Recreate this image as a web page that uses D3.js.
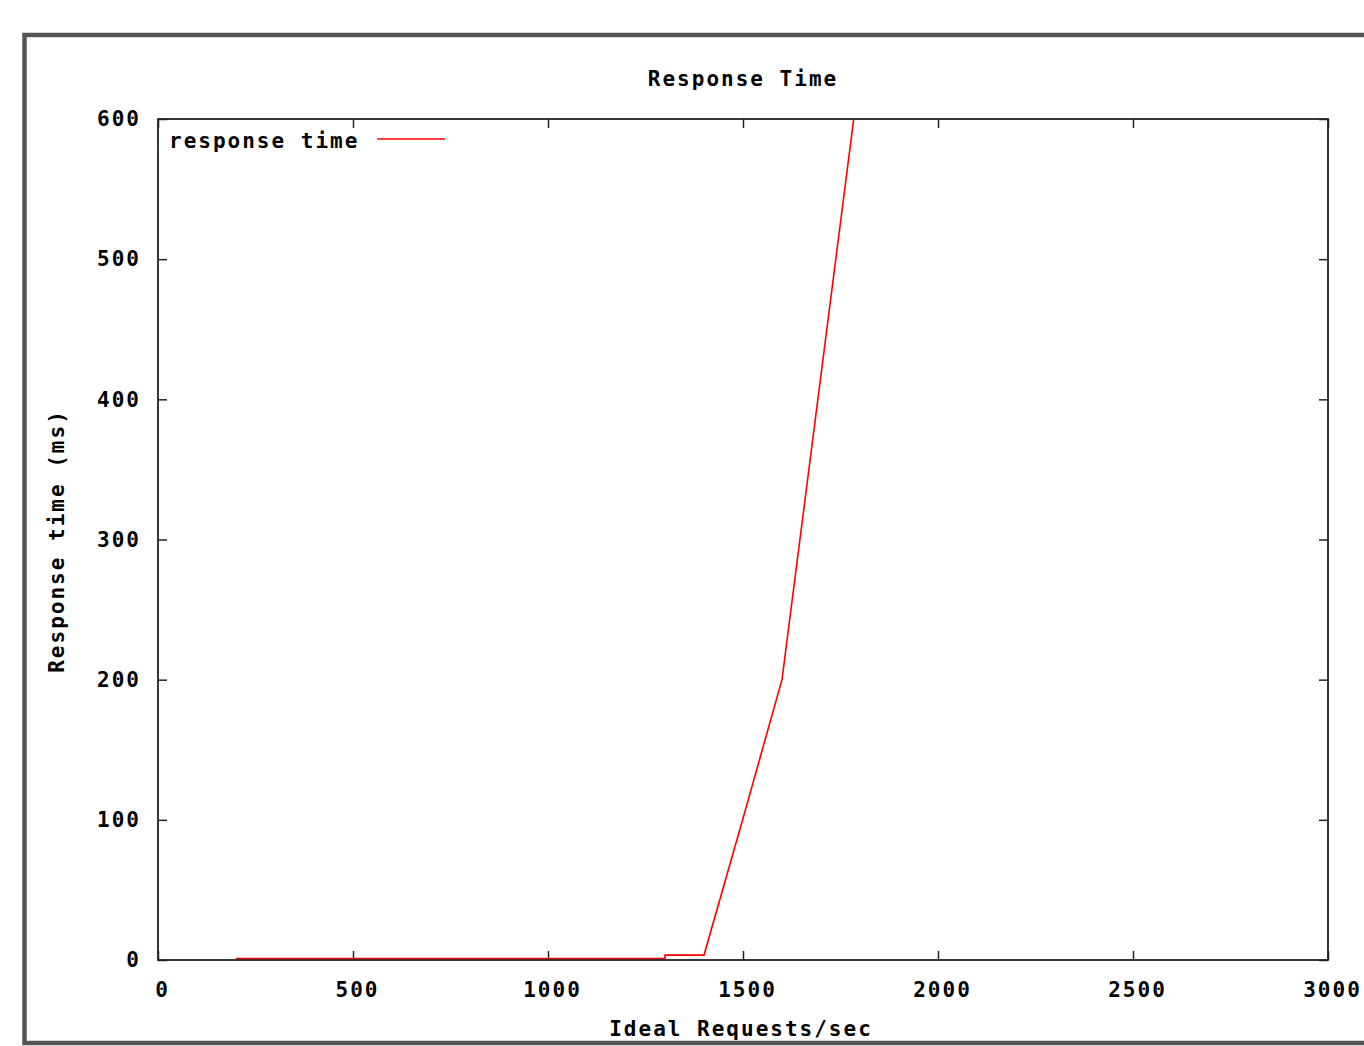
<!DOCTYPE html>
<html>
<head>
<meta charset="utf-8">
<script src="https://cdn.jsdelivr.net/npm/d3@7"></script>
<style>
  body { margin: 0; background: #fff; }
  text { font-family: "DejaVu Sans Mono", monospace; font-weight: bold; font-size: 21px; letter-spacing: 2px; fill: #000; }
</style>
</head>
<body>
<svg></svg>
<script>
// data
const requests = [200, 1300, 1300, 1400, 1500, 1600, 1800]
const responseMs = [1, 1, 3.5, 3.5, 101, 200, 635]
const xTicks = [0, 500, 1000, 1500, 2000, 2500, 3000]
const yTicks = [0, 100, 200, 300, 400, 500, 600]

const w = 1364
const h = 1046
const plotLeft = 158
const plotRight = 1328
const plotTop = 119
const plotBottom = 960

const svg = d3.select("svg")
    .attr("width", w)
    .attr("height", h)

// outer grey frame
svg.append("rect")
    .attr("x", 24.5)
    .attr("y", 35)
    .attr("width", 1400)
    .attr("height", 1008)
    .attr("fill", "#fff")
    .attr("stroke", "#555")
    .attr("stroke-width", 4.5)

const xScale = d3.scaleLinear().domain([0, 3000]).range([plotLeft, plotRight])
const yScale = d3.scaleLinear().domain([0, 600]).range([plotBottom, plotTop])

// ticks pointing inward on all four sides
const bottomAxis = d3.axisBottom(xScale).tickValues(xTicks).tickFormat(d3.format("d"))
    .tickSizeInner(-9).tickSizeOuter(0).tickPadding(22)
const topAxis = d3.axisTop(xScale).tickValues(xTicks).tickSizeInner(-9).tickSizeOuter(0).tickFormat("")
const leftAxis = d3.axisLeft(yScale).tickValues(yTicks).tickFormat(d3.format("d"))
    .tickSizeInner(-9).tickSizeOuter(0).tickPadding(17)
const rightAxis = d3.axisRight(yScale).tickValues(yTicks).tickSizeInner(-9).tickSizeOuter(0).tickFormat("")

function styleAxis(g) {
    g.select(".domain").remove()
    g.selectAll("line").attr("stroke", "#222").attr("stroke-width", 1.5)
    g.selectAll("text").attr("font-family", null).attr("font-size", null).attr("fill", "#000")
}

svg.append("g").attr("transform", `translate(0, ${plotBottom})`).call(bottomAxis).call(styleAxis)
    .selectAll("text").attr("dx", 4)
svg.append("g").attr("transform", `translate(0, ${plotTop})`).call(topAxis).call(styleAxis)
svg.append("g").attr("transform", `translate(${plotLeft}, 0)`).call(leftAxis).call(styleAxis)
svg.append("g").attr("transform", `translate(${plotRight}, 0)`).call(rightAxis).call(styleAxis)

// clip the line to the plot box
svg.append("clipPath")
    .attr("id", "plotClip")
    .append("rect")
    .attr("x", plotLeft)
    .attr("y", plotTop)
    .attr("width", plotRight - plotLeft)
    .attr("height", plotBottom - plotTop)

const points = requests.map((r, i) => [r, responseMs[i]])

const line = d3.line()
    .x(d => xScale(d[0]))
    .y(d => yScale(d[1]))

svg.append("path")
    .datum(points)
    .attr("clip-path", "url(#plotClip)")
    .attr("d", line)
    .attr("fill", "none")
    .attr("stroke", "#ff0000")
    .attr("stroke-width", 1.6)

// plot border
svg.append("rect")
    .attr("x", plotLeft)
    .attr("y", plotTop)
    .attr("width", plotRight - plotLeft)
    .attr("height", plotBottom - plotTop)
    .attr("fill", "none")
    .attr("stroke", "#222")
    .attr("stroke-width", 1.8)

// title and axis labels
svg.append("text")
    .attr("x", 743)
    .attr("y", 86)
    .attr("text-anchor", "middle")
    .text("Response Time")

svg.append("text")
    .attr("x", 741)
    .attr("y", 1036)
    .attr("text-anchor", "middle")
    .text("Ideal Requests/sec")

svg.append("text")
    .attr("transform", "translate(64, 541) rotate(-90)")
    .attr("text-anchor", "middle")
    .text("Response time (ms)")

// legend
const legend = svg.append("g")
legend.append("text")
    .attr("x", 169)
    .attr("y", 148)
    .text("response time")
legend.append("line")
    .attr("x1", 377)
    .attr("x2", 445)
    .attr("y1", 139)
    .attr("y2", 139)
    .attr("stroke", "#ff0000")
    .attr("stroke-width", 1.6)
</script>
</body>
</html>
